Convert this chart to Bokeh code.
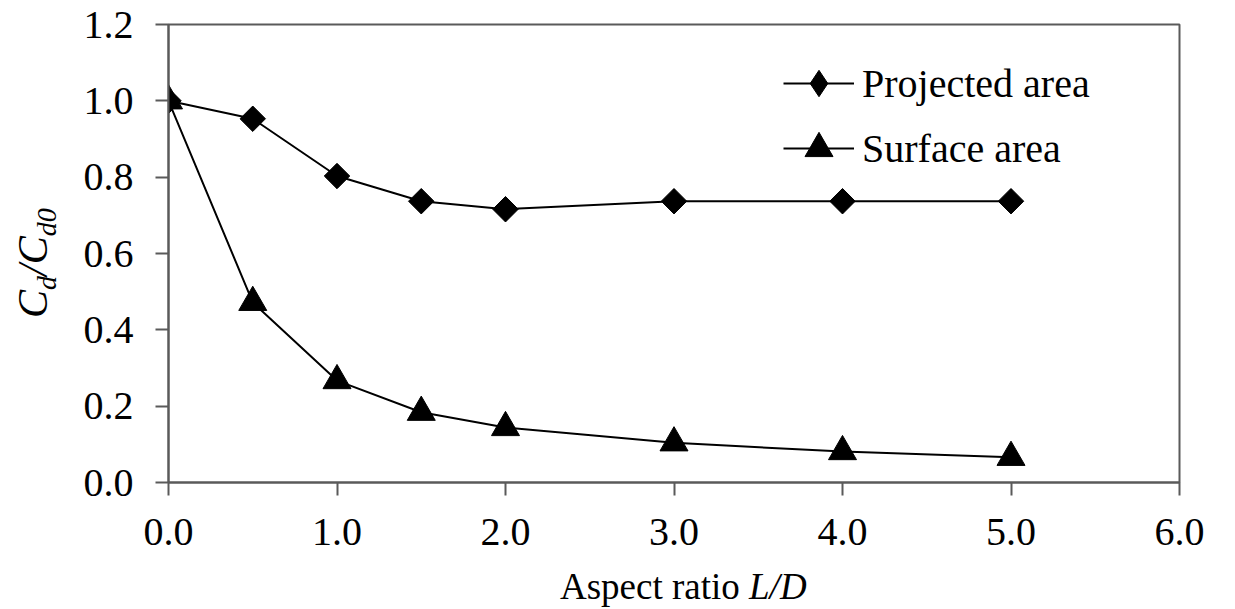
import math
from bokeh.plotting import figure
from bokeh.models import (Range1d, FixedTicker, NumeralTickFormatter, Legend, LegendItem, Div)
from bokeh.layouts import row, column
from bokeh.embed import file_html
from bokeh.resources import INLINE

# ---- data ----
aspect_ratio = [0.0, 0.5, 1.0, 1.5, 2.0, 3.0, 4.0, 5.0]
projected_area = [1.00, 0.953, 0.803, 0.737, 0.716, 0.737, 0.737, 0.737]
surface_area = [1.00, 0.472, 0.267, 0.184, 0.144, 0.104, 0.081, 0.066]
x_ticks = [0, 1, 2, 3, 4, 5, 6]
y_ticks = [0.0, 0.2, 0.4, 0.6, 0.8, 1.0, 1.2]
series_names = ["Projected area", "Surface area"]
x_title = ("Aspect ratio ", "L/D")
y_title = [("C", False), ("d", True), ("/C", False), ("d0", True)]

FONT = "Liberation Serif"
AX = "#5a5a5a"

p = figure(width=1155, height=562, output_backend="svg", toolbar_location=None,
           x_range=Range1d(0, 6), y_range=Range1d(0, 1.2),
           min_border_left=88, min_border_right=56, min_border_top=24, min_border_bottom=80)
p.grid.visible = False
p.outline_line_color = AX
p.outline_line_width = 2
p.background_fill_color = "white"
p.border_fill_color = "white"

for ax in (p.xaxis[0], p.yaxis[0]):
    ax.axis_line_color = AX
    ax.axis_line_width = 2
    ax.major_tick_line_color = AX
    ax.major_tick_line_width = 2
    ax.major_tick_out = 13
    ax.major_tick_in = 0
    ax.minor_tick_out = 0
    ax.minor_tick_in = 0
    ax.major_label_text_font = FONT
    ax.major_label_text_font_size = "40px"
    ax.major_label_text_color = "black"
    ax.formatter = NumeralTickFormatter(format="0.0")
p.xaxis[0].ticker = FixedTicker(ticks=x_ticks)
p.yaxis[0].ticker = FixedTicker(ticks=y_ticks)
p.xaxis[0].major_label_standoff = 23
p.yaxis[0].major_label_standoff = 22

# ---- series ----
l1 = p.line(aspect_ratio, projected_area, line_color="black", line_width=2)
# diamond key for the legend (hidden under the rotated squares in the plot)
s1_key = p.scatter(aspect_ratio, projected_area, marker="diamond", size=24,
                   fill_color="black", line_color="black")
s1 = p.scatter(aspect_ratio, projected_area, marker="square", size=18, angle=math.pi / 4,
               fill_color="black", line_color="black")
l2 = p.line(aspect_ratio, surface_area, line_color="black", line_width=2)
s2 = p.scatter(aspect_ratio, surface_area, marker="triangle", size=28,
               fill_color="black", line_color="black")

# ---- legends (one per item so each marker gets its own size) ----
def make_legend(label, rends, gh, loc):
    lg = Legend(items=[LegendItem(label=label, renderers=rends)], location=loc,
                glyph_width=71, glyph_height=gh, label_height=gh, label_standoff=8,
                padding=0, margin=0, spacing=0,
                border_line_color=None, background_fill_alpha=0,
                label_text_font=FONT, label_text_font_size="40px", label_text_color="black")
    p.add_layout(lg)

make_legend(series_names[0], [l1, s1_key], 66, (615, 366))
make_legend(series_names[1], [l2, s2], 70, (615, 299))

# ---- axis titles (mixed italic / subscripts) as HTML text ----
FONT_CSS = "font-family:'Liberation Serif',serif; color:black; white-space:nowrap;"
y_html = "".join(
    f'<span style="font-size:28px; vertical-align:-9px;">{t}</span>' if sub else t
    for t, sub in y_title)
div_y = Div(width=80, height=562, margin=0, text=(
    '<div style="position:relative; width:80px; height:562px; overflow:hidden;">'
    f'<div style="position:absolute; left:12px; top:318px; {FONT_CSS} font-size:42px; '
    'line-height:42px; font-style:italic; transform:rotate(-90deg); transform-origin:0 0;">'
    f'{y_html}</div></div>'))

div_x = Div(width=1235, height=47, margin=0, text=(
    '<div style="position:relative; width:1235px; height:47px;">'
    f'<div style="position:absolute; left:560px; top:3px; {FONT_CSS} font-size:37px; '
    f'line-height:44px;">{x_title[0]}<i>{x_title[1]}</i></div></div>'))

layout = column(row(div_y, p, spacing=0), div_x, spacing=0)

open("out.html", "w").write(file_html(layout, INLINE))
